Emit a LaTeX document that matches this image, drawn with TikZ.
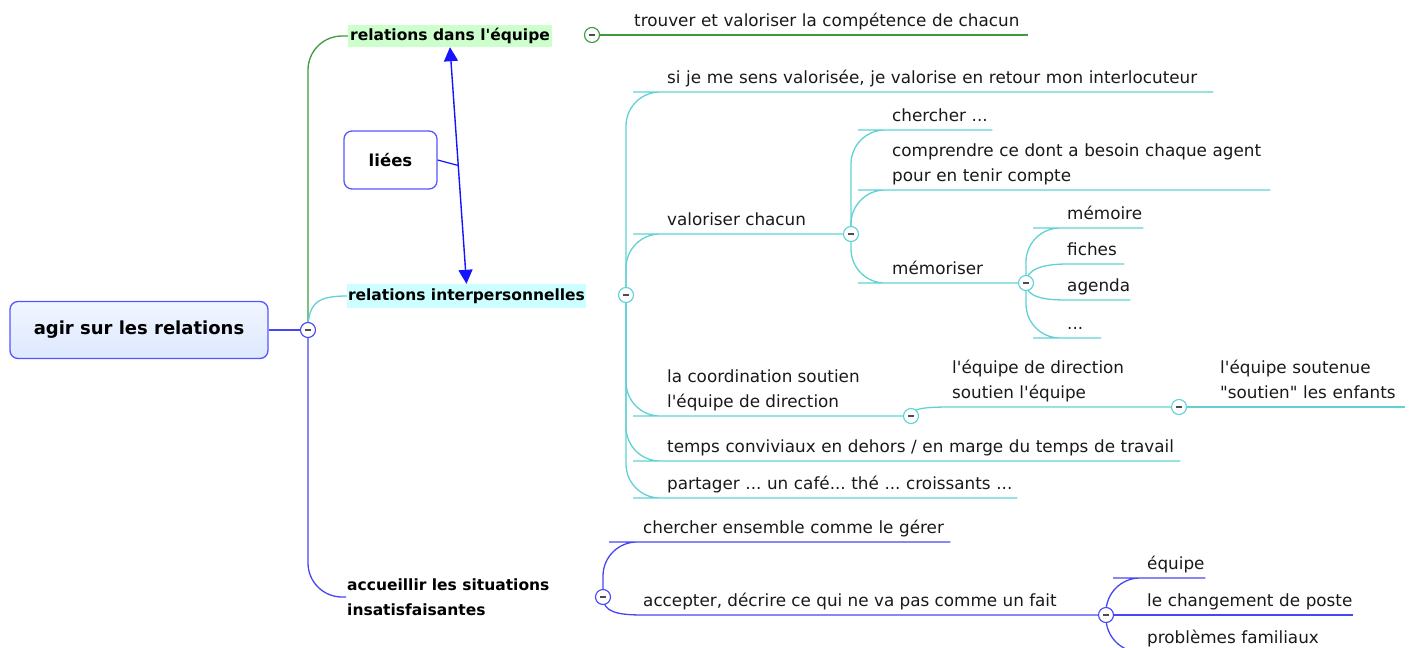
\documentclass[tikz,border=0pt]{standalone}
\usepackage{fontspec}
\setmainfont{DejaVu Sans}[Ligatures=TeXOff]
\usetikzlibrary{arrows.meta,backgrounds,calc}

\definecolor{gline}{RGB}{60,155,60}
\definecolor{cline}{RGB}{95,210,212}
\definecolor{bline}{RGB}{70,70,245}
\definecolor{ghl}{RGB}{204,255,204}
\definecolor{chl}{RGB}{204,255,255}
\definecolor{rootfill}{RGB}{222,232,255}
\definecolor{rootfilltop}{RGB}{240,246,255}
\definecolor{rootdraw}{RGB}{85,85,255}
\definecolor{txt}{RGB}{25,25,25}
\definecolor{arrblue}{RGB}{20,20,255}

\newcommand\dstrut{\vrule width 0pt height 0pt depth 4pt}
\newcommand\minussign{\textcolor{black!70}{\rule{5.5pt}{1.5pt}}}

\tikzset{
  conn/.style={line width=1.3pt},
  gconn/.style={conn, draw=gline},
  cconn/.style={conn, draw=cline},
  bconn/.style={conn, draw=bline},
  rc/.style={rounded corners=34pt},
  topic/.style={anchor=south west, inner xsep=0pt, inner ysep=4.5pt, align=left,
    font=\fontsize{16.8}{25}\selectfont, text=txt, execute at end node=\dstrut},
  lvl1/.style={inner xsep=1pt, inner ysep=0pt, font=\fontsize{15.5}{25}\selectfont\bfseries, text=black},
  tog/.style={circle, draw=#1, fill=white, line width=1.1pt, minimum size=15pt, inner sep=0pt},
  rootbox/.style={draw=rootdraw, top color=rootfilltop, bottom color=rootfill, rounded corners=8pt,
    line width=1.3pt, minimum width=258pt, minimum height=57pt, inner sep=0pt,
    font=\fontsize{18}{22}\selectfont\bfseries},
  lieesbox/.style={draw=rootdraw, fill=white, rounded corners=8pt, line width=1.3pt,
    minimum width=93pt, minimum height=58pt, inner sep=0pt, font=\fontsize{16.5}{20}\selectfont\bfseries},
  arr/.style={draw=arrblue, line width=1.4pt},
}

\begin{document}
\frenchspacing
\begin{tikzpicture}[x=1pt,y=-1pt]
\useasboundingbox (0,0) rectangle (1417,648);

% main nodes
\node[rootbox] (root) at (139,330) {agir sur les relations};
\node[tog=bline] (c0) at (308,330) {\minussign};
\node[lvl1, fill=ghl, minimum width=204pt, minimum height=22pt] (ra) at (450,36) {relations dans l'équipe};
\node[lvl1, fill=chl, minimum width=237pt, minimum height=24pt] (ri) at (466.5,296) {relations interpersonnelles};
\node[lvl1, anchor=west, align=left] (ac) at (346,597) {accueillir les situations\\insatisfaisantes};
\node[lieesbox] (li) at (390.5,160) {liées};

% toggles
\node[tog=gline] (g1) at (592,35) {\minussign};
\node[tog=cline] (c2) at (626,295) {\minussign};
\node[tog=cline] (c3) at (851,234) {\minussign};
\node[tog=cline] (c5) at (1026,283) {\minussign};
\node[tog=cline] (c4) at (911,416) {\minussign};
\node[tog=cline] (c6) at (1179,407) {\minussign};
\node[tog=bline] (c7) at (603,597) {\minussign};
\node[tog=bline] (c8) at (1106,615) {\minussign};

% topics
\node[topic, text width=394pt] (t1) at (634,35) {\mbox{trouver et valoriser la compétence de chacun}};

\node[topic, text width=546pt] (s1) at (667,92) {\mbox{si je me sens valorisée, je valorise en retour mon interlocuteur}};
\node[topic] (s2) at (667,234) {valoriser chacun};
\node[topic] (s3) at (667,416) {la coordination soutien\\l'équipe de direction};
\node[topic, text width=513pt] (s4) at (667,461) {\mbox{temps conviviaux en dehors / en marge du temps de travail}};
\node[topic, text width=350pt] (s5) at (667,498) {\mbox{partager ... un café... thé ... croissants ...}};

\node[topic, text width=100pt] (v1) at (892,130) {\mbox{chercher ...}};
\node[topic, text width=378pt] (v2) at (892,190) {\mbox{comprendre ce dont a besoin chaque agent}\\pour en tenir compte};
\node[topic] (v3) at (892,283) {mémoriser};

\node[topic, text width=76pt] (m1) at (1067,228) {mémoire};
\node[topic, text width=57pt] (m2) at (1067,264) {fiches};
\node[topic, text width=63pt] (m3) at (1067,300) {agenda};
\node[topic, text width=18pt] (m4) at (1067,338) {...};

\node[topic] (d1) at (952,407) {l'équipe de direction\\soutien l'équipe};
\node[topic, text width=185pt] (d2) at (1220,407) {l'équipe soutenue\\\mbox{"soutien" les enfants}};

\node[topic, text width=307pt] (b1) at (643,542) {\mbox{chercher ensemble comme le gérer}};
\node[topic] (b2) at (643,615) {accepter, décrire ce qui ne va pas comme un fait};

\node[topic, text width=58pt] (e1) at (1147,578) {équipe};
\node[topic, text width=206pt] (e2) at (1147,615) {\mbox{le changement de poste}};
\node[topic, text width=185pt] (e3) at (1147,652) {\mbox{problèmes familiaux}};

\coordinate (mid) at ($(ra.south)!0.5!(ri.north)$);

% connectors
\begin{scope}[on background layer]
\draw[bconn] (root.east) -- (c0);
\draw[gconn, rc] (c0.center) |- (ra.west);
\draw[cconn] (c0.center) .. controls +(0,-28) and +(-28,0) .. (ri.west);
\draw[bconn, rc] (c0.center) |- (ac.west);

\draw[gconn] (g1) -- (t1.south west) -- (t1.south east);

\draw[cconn, rc] (c2.center) |- (s1.south west) -- (s1.south east);
\draw[cconn, rc] (c2.center) |- (s2.south west) -- (c3);
\draw[cconn, rc] (c2.center) |- (s3.south west) -- (c4);
\draw[cconn, rc] (c2.center) |- (s4.south west) -- (s4.south east);
\draw[cconn, rc] (c2.center) |- (s5.south west) -- (s5.south east);

\draw[cconn, rc] (c3.center) |- (v1.south west) -- (v1.south east);
\draw[cconn, rc] (c3.center) |- (v2.south west) -- (v2.south east);
\draw[cconn, rc] (c3.center) |- (v3.south west) -- (c5);

\draw[cconn, rc] (c5.center) |- (m1.south west) -- (m1.south east);
\draw[cconn] (c5.center) .. controls +(0,-14) and +(-24,0) .. (m2.south west) -- (m2.south east);
\draw[cconn] (c5.center) .. controls +(0,14) and +(-24,0) .. (m3.south west) -- (m3.south east);
\draw[cconn, rc] (c5.center) |- (m4.south west) -- (m4.south east);

\draw[cconn] (c4.center) .. controls +(0,-8) and +(-26,0) .. (d1.south west) -- (c6);
\draw[cconn] (c6) -- (d2.south west) -- (d2.south east);

\draw[bconn, rc] (c7.center) |- (b1.south west) -- (b1.south east);
\draw[bconn] (c7.center) .. controls +(0,15) and +(-26,0) .. (b2.south west) -- (c8);

\draw[bconn, rc] (c8.center) |- (e1.south west) -- (e1.south east);
\draw[bconn] (c8) -- (e2.south west) -- (e2.south east);
\draw[bconn, rc] (c8.center) |- (e3.south west) -- (e3.south east);
\end{scope}

\draw[arr, {Triangle[width=14pt,length=14pt]}-{Triangle[width=14pt,length=14pt]}] (ra.south) -- (ri.north);
\draw[arr, line width=1.2pt] (li.east) -- (mid);
\end{tikzpicture}
\end{document}
